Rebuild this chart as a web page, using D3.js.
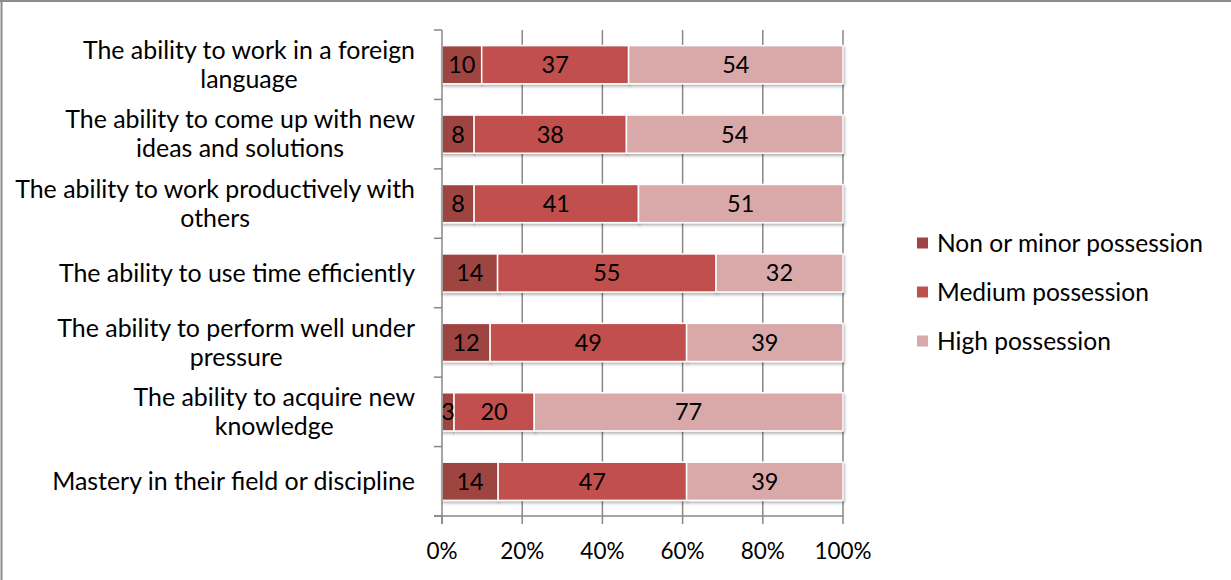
<!DOCTYPE html>
<html>
<head>
<meta charset="utf-8">
<script src="https://cdn.jsdelivr.net/npm/d3@7"></script>
<style>
  body { margin: 0; background: #fff; }
  text { font-family: Lato, "Open Sans", sans-serif; fill: #000; }
</style>
</head>
<body>
<svg id="chart" width="1231" height="580"></svg>
<script>
// Skills possession (share of respondents, %)
const categories = [
    ['The ability to work in a foreign', 'language'],
    ['The ability to come up with new', 'ideas and solutions'],
    ['The ability to work productively with', 'others'],
    ['The ability to use time efficiently'],
    ['The ability to perform well under', 'pressure'],
    ['The ability to acquire new', 'knowledge'],
    ['Mastery in their field or discipline']
];
const seriesNames = ['Non or minor possession', 'Medium possession', 'High possession'];
const nonMinor = [10, 8, 8, 14, 12, 3, 14];
const medium   = [37, 38, 41, 55, 49, 20, 47];
const high     = [54, 54, 51, 32, 39, 77, 39];
const xTicks   = [0, 0.2, 0.4, 0.6, 0.8, 1];
const colors   = ['#9E4442', '#C0504D', '#D9A9A9'];

const svg = d3.select('#chart');

// outer frame (only top/left edges visible in the crop)
svg.append('line').attr('x1', 0).attr('x2', 1231).attr('y1', 1).attr('y2', 1)
    .style('stroke', '#8c8c8c').style('stroke-width', 2);
svg.append('line').attr('x1', 1.5).attr('x2', 1.5).attr('y1', 0).attr('y2', 580)
    .style('stroke', '#8c8c8c').style('stroke-width', 2);

const plot = { left: 442, right: 843, top: 30, bottom: 516 };

const rows = categories.map((c, i) => ({
    key: i, label: c,
    s0: nonMinor[i], s1: medium[i], s2: high[i]
}));

const stack = d3.stack().keys(['s0', 's1', 's2']).offset(d3.stackOffsetExpand);
const layers = stack(rows);

const x = d3.scaleLinear().domain([0, 1]).range([plot.left, plot.right]);
const y = d3.scaleBand().domain(rows.map(d => d.key)).range([plot.top, plot.bottom])
    .paddingInner(0.45).paddingOuter(0.225);

// measure helper: font size that makes `str` span `target` px
function fitSize(str, target) {
    const p = svg.append('text').style('font-size', '20px').text(str);
    const w = p.node().getComputedTextLength();
    p.remove();
    return 20 * target / w;
}

// shadow filter
const defs = svg.append('defs');
const f = defs.append('filter').attr('id', 'shadow').attr('x', '-5%').attr('y', '-20%')
    .attr('width', '110%').attr('height', '160%');
f.append('feDropShadow').attr('dx', 1).attr('dy', 2).attr('stdDeviation', 1.6)
    .attr('flood-color', '#000').attr('flood-opacity', 0.3);

// gridlines
svg.append('g').selectAll('line')
    .data(xTicks.slice(1))
    .enter().append('line')
    .attr('x1', d => x(d)).attr('x2', d => x(d))
    .attr('y1', plot.top).attr('y2', plot.bottom)
    .style('stroke', '#878787').style('stroke-width', 1.5);

// bars
const barG = svg.append('g');
layers.forEach((layer, li) => {
    barG.append('g').selectAll('rect')
        .data(layer)
        .enter().append('rect')
        .attr('x', d => x(d[0]))
        .attr('y', (d, i) => y(rows[i].key))
        .attr('width', d => x(d[1]) - x(d[0]))
        .attr('height', y.bandwidth())
        .style('fill', colors[li])
        .style('stroke', '#fff')
        .style('stroke-width', 1.5)
        .attr('filter', 'url(#shadow)');
});

// value labels
const valueArrays = [nonMinor, medium, high];
layers.forEach((layer, li) => {
    barG.append('g').selectAll('text')
        .data(layer)
        .enter().append('text')
        .attr('x', d => (x(d[0]) + x(d[1])) / 2)
        .attr('y', (d, i) => y(rows[i].key) + y.bandwidth() / 2)
        .attr('dy', '0.36em')
        .style('text-anchor', 'middle')
        .style('font-size', '23.5px')
        .text((d, i) => valueArrays[li][i]);
});

// y axis
const yAxisG = svg.append('g');
yAxisG.append('line')
    .attr('x1', plot.left).attr('x2', plot.left)
    .attr('y1', plot.top).attr('y2', plot.bottom + 8)
    .style('stroke', '#878787').style('stroke-width', 1.5);
yAxisG.selectAll('.ytick')
    .data(d3.range(categories.length + 1))
    .enter().append('line')
    .attr('x1', plot.left - 8).attr('x2', plot.left)
    .attr('y1', d => plot.top + d * (plot.bottom - plot.top) / categories.length)
    .attr('y2', d => plot.top + d * (plot.bottom - plot.top) / categories.length)
    .style('stroke', '#878787').style('stroke-width', 1.5);

// x axis
const xAxisG = svg.append('g');
xAxisG.append('line')
    .attr('x1', plot.left - 8).attr('x2', plot.right)
    .attr('y1', plot.bottom).attr('y2', plot.bottom)
    .style('stroke', '#878787').style('stroke-width', 1.5);
xAxisG.selectAll('.xtick')
    .data(xTicks)
    .enter().append('line')
    .attr('x1', d => x(d)).attr('x2', d => x(d))
    .attr('y1', plot.bottom).attr('y2', plot.bottom + 8)
    .style('stroke', '#878787').style('stroke-width', 1.5);
xAxisG.selectAll('text')
    .data(xTicks)
    .enter().append('text')
    .attr('x', d => x(d))
    .attr('y', 551)
    .attr('dy', '0.36em')
    .style('text-anchor', 'middle')
    .style('font-size', '22.5px')
    .text(d3.format('.0%'));

// category labels, sized so the longest line spans ~405px as in the reference
const labelG = svg.append('g');
const fs = fitSize('The ability to work productively with', 400);
const lineGap = 29;
rows.forEach(r => {
    const cy = y(r.key) + y.bandwidth() / 2;
    const n = r.label.length;
    const t = labelG.append('text')
        .attr('y', cy)
        .style('font-size', fs + 'px')
        .style('text-anchor', 'middle');
    // lines centered on widest line, block right edge at x = 415
    const widths = r.label.map(s => {
        const tmp = labelG.append('text').style('font-size', fs + 'px').text(s);
        const w = tmp.node().getComputedTextLength();
        tmp.remove();
        return w;
    });
    const cx = 415 - d3.max(widths) / 2;
    r.label.forEach((s, j) => {
        t.append('tspan')
            .attr('x', cx)
            .attr('y', cy + (j - (n - 1) / 2) * lineGap)
            .attr('dy', '0.35em')
            .text(s);
    });
});

// legend
const legFs = fitSize(seriesNames[0], 266);
const legend = svg.append('g').attr('transform', 'translate(917, 243)');
const items = legend.selectAll('g')
    .data(seriesNames)
    .enter().append('g')
    .attr('transform', (d, i) => `translate(0, ${i * 49})`);
items.append('rect')
    .attr('x', 0).attr('y', -5.5)
    .attr('width', 11).attr('height', 11)
    .style('fill', (d, i) => colors[i]);
items.append('text')
    .attr('x', 20).attr('y', 0).attr('dy', '0.36em')
    .style('font-size', legFs + 'px')
    .text(d => d);
</script>
</body>
</html>
